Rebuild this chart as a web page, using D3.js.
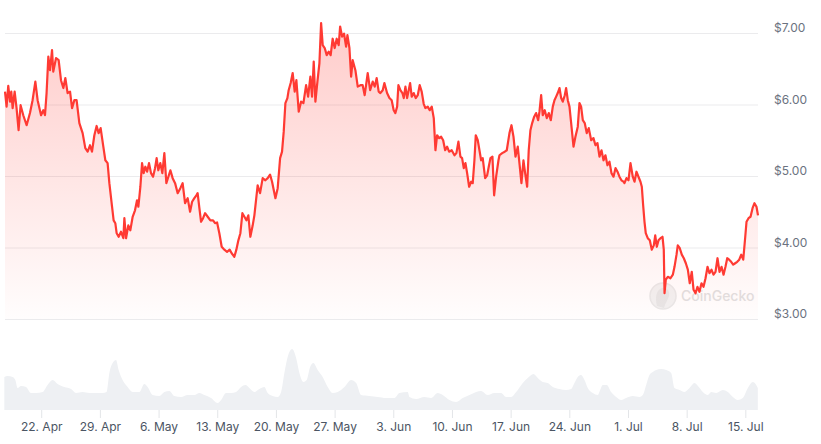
<!DOCTYPE html>
<html>
<head>
<meta charset="utf-8">
<script src="https://cdn.jsdelivr.net/npm/d3@7"></script>
<style>
  html, body { margin: 0; padding: 0; background: #fff; }
  svg { display: block; font-family: Inter, "Noto Sans", sans-serif; }
</style>
</head>
<body>
<svg width="821" height="444"></svg>
<script>
// days since 17 Apr 2024 00:00 UTC, price in USD
var priceDays = [0.68,0.87,1.07,1.28,1.43,1.59,1.83,2.06,2.30,2.54,2.86,3.26,3.66,3.97,4.30,4.57,4.98,5.25,5.45,5.64,5.85,6.05,6.29,6.44,6.77,7.08,7.36,7.64,7.88,8.15,8.44,8.68,8.95,9.22,9.55,9.94,10.26,10.54,10.82,11.06,11.34,11.61,11.85,12.09,12.41,12.65,12.92,13.13,13.45,13.64,13.84,14.00,14.24,14.52,14.80,
  14.92,15.12,15.39,15.63,15.91,16.19,16.43,16.59,16.83,17.03,17.22,17.42,17.63,17.86,18.10,18.34,18.58,18.77,18.97,19.21,19.45,19.69,19.93,20.17,20.41,20.68,20.97,21.28,21.60,21.87,22.16,22.47,22.76,23.00,23.27,23.51,23.66,23.87,24.07,24.31,24.55,24.86,25.18,25.50,25.74,25.98,26.25,26.53,26.85,27.17,27.48,27.72,28.04,28.28,28.52,28.76,29.00,29.24,29.48,29.71,29.95,30.23,
  30.43,30.82,31.11,31.42,31.74,32.02,32.30,32.54,32.94,33.21,33.50,33.73,33.93,34.13,34.37,34.52,34.76,35.00,35.24,35.44,35.72,36.00,36.28,36.60,36.84,37.11,37.31,37.51,37.71,37.95,38.19,38.39,38.58,38.82,39.06,39.30,39.53,39.77,40.01,40.25,40.49,40.66,40.89,41.13,41.37,41.53,41.77,41.97,42.16,42.48,42.76,43.08,43.35,43.59,43.95,44.24,44.55,44.79,45.02,45.26,
  45.46,45.74,45.94,46.26,46.54,46.81,47.05,47.25,47.46,47.61,47.85,48.09,48.25,48.45,48.65,48.84,49.01,49.20,49.44,49.68,49.92,50.15,50.39,50.63,50.83,51.11,51.35,51.59,51.83,52.03,52.23,52.47,52.71,52.95,53.19,53.42,53.66,53.97,54.30,54.53,54.77,55.01,55.21,55.41,55.61,55.81,56.05,56.29,56.48,56.68,56.84,57.08,57.28,57.48,57.67,57.96,58.20,58.39,58.59,58.83,59.03,59.27,59.55,
  59.67,59.99,60.30,60.54,60.86,61.10,61.34,61.58,61.85,62.05,62.29,62.53,62.73,62.97,63.16,63.36,63.57,63.81,64.04,64.28,64.44,64.64,64.83,65.07,65.31,65.55,65.79,66.03,66.23,66.43,66.62,66.83,67.03,67.22,67.46,67.62,67.82,68.02,68.22,68.50,68.73,69.01,69.21,69.41,69.61,69.84,70.08,70.32,70.61,70.88,71.12,71.36,71.60,71.84,72.08,72.31,72.55,72.79,73.03,73.27,73.51,73.75,73.98,74.22,74.46,
  74.58,74.82,75.06,75.30,75.57,75.78,76.01,76.25,76.49,76.65,76.81,76.97,77.12,77.36,77.60,77.84,78.08,78.25,78.44,78.64,78.88,79.12,79.27,79.36,79.51,79.75,80.07,80.35,80.55,80.79,80.94,81.18,81.42,81.66,81.90,82.14,82.37,82.61,82.82,83.06,83.29,83.53,83.77,84.01,84.25,84.49,84.72,84.96,85.20,85.44,85.68,85.92,86.16,86.40,86.63,86.84,87.07,87.31,87.55,87.79,88.03,88.27,88.51,88.75,88.99,89.14,89.38,89.62,89.86,90.09,90.33,90.51];
var prices = [6.18,5.97,6.26,6.04,6.18,5.95,6.18,5.95,5.64,5.99,5.85,5.71,5.88,6.06,6.32,6.06,5.85,5.92,5.85,6.16,6.67,6.48,6.76,6.46,6.65,6.62,6.34,6.23,6.37,6.16,6.18,5.95,6.06,6.06,5.74,5.60,5.39,5.34,5.43,5.34,5.57,5.70,5.60,5.67,5.41,5.22,5.18,4.90,4.57,4.38,4.34,4.20,4.15,4.22,4.13,
  4.41,4.13,4.31,4.24,4.43,4.52,4.66,4.57,4.85,5.18,5.04,5.13,5.06,5.18,5.04,4.99,5.11,5.25,5.08,5.18,5.04,5.32,4.90,4.99,5.08,4.97,4.90,4.76,4.83,4.90,4.62,4.69,4.50,4.64,4.69,4.73,4.76,4.55,4.36,4.41,4.48,4.43,4.38,4.38,4.34,4.35,4.20,4.01,3.97,3.94,3.97,3.92,3.87,3.97,4.10,4.20,4.48,4.43,4.38,4.45,4.15,4.31,
  4.45,4.87,4.76,4.97,4.94,4.97,5.02,4.92,4.69,4.83,5.25,5.34,5.62,6.02,6.09,6.20,6.30,6.44,6.18,6.34,5.90,6.04,6.02,6.27,6.11,6.39,6.11,6.60,6.04,6.32,6.58,7.14,6.83,6.79,6.69,6.74,6.69,6.92,6.79,6.92,6.83,7.09,6.95,6.99,6.81,6.97,6.79,6.39,6.62,6.48,6.25,6.27,6.27,6.13,6.44,6.20,6.32,6.25,6.37,6.18,
  6.16,6.20,6.30,6.16,6.09,6.06,5.92,5.88,5.97,6.27,6.20,6.16,6.09,6.25,6.09,6.20,6.30,6.11,6.16,6.09,6.13,6.27,6.18,6.01,5.95,5.97,5.92,5.97,5.81,5.36,5.57,5.53,5.55,5.50,5.36,5.41,5.34,5.36,5.29,5.32,5.48,5.27,5.25,5.11,5.18,5.04,4.85,4.92,4.90,5.22,5.57,5.50,5.36,5.22,5.25,4.97,5.01,5.13,5.25,5.27,4.73,4.99,5.22,
  5.29,5.32,5.34,5.36,5.60,5.71,5.55,5.27,5.41,5.18,4.90,5.22,5.04,4.85,5.36,5.64,5.74,5.83,5.88,5.78,5.90,6.13,5.85,5.92,5.81,5.88,5.78,5.97,6.06,6.11,6.16,6.23,6.09,6.04,6.13,6.23,6.06,5.97,5.74,5.41,5.55,5.69,6.02,5.97,5.78,5.74,5.60,5.67,5.50,5.53,5.43,5.46,5.27,5.36,5.22,5.29,5.15,5.20,5.04,4.99,5.11,5.06,4.99,4.94,4.92,
  4.90,4.97,4.94,5.18,4.99,4.92,5.06,4.99,4.92,4.85,4.59,4.36,4.20,4.13,4.10,3.97,4.03,4.17,4.01,4.10,4.13,4.15,3.97,3.36,3.55,3.59,3.57,3.62,3.73,3.90,4.03,3.99,3.90,3.85,3.78,3.69,3.50,3.66,3.41,3.36,3.45,3.38,3.50,3.45,3.57,3.73,3.64,3.69,3.62,3.66,3.85,3.66,3.73,3.62,3.73,3.85,3.83,3.80,3.76,3.78,3.80,3.83,3.90,3.83,4.15,4.36,4.41,4.43,4.55,4.62,4.57,4.45];

// trading volume, $M
var volumeDays = [0.60,0.99,1.59,1.91,2.18,2.59,3.19,3.78,4.38,5.17,5.76,6.36,6.96,7.76,8.56,9.15,9.94,10.74,11.54,12.33,12.80,13.13,13.52,13.93,14.24,14.71,15.31,15.91,16.71,17.30,17.70,18.29,19.09,19.69,20.29,20.88,21.68,22.47,23.27,23.87,24.46,25.26,26.05,26.46,27.05,27.65,28.25,28.84,29.36,29.83,30.43,31.03,31.62,32.02,32.61,33.21,33.62,34.01,34.40,34.93,35.41,35.80,36.28,36.67,37.08,37.47,37.98,38.58,39.18,39.77,40.37,41.17,41.97,42.57,43.16,44.15,45.14,46.14,47.14,47.73,48.72,
  48.93,49.72,50.71,51.51,52.30,52.90,53.70,54.50,55.29,56.09,56.88,57.48,58.27,59.07,59.87,60.46,61.06,61.66,62.45,63.04,63.72,64.24,64.83,65.43,66.03,66.82,67.62,68.22,68.61,69.01,69.41,69.81,70.20,70.80,71.40,71.68,71.99,72.47,72.99,73.59,74.19,74.78,75.57,76.37,76.77,77.17,77.56,77.96,78.36,78.96,79.56,80.15,80.55,81.15,81.74,82.34,82.94,83.45,83.93,84.52,84.93,85.52,86.31,86.91,87.51,88.10,88.70,89.30,89.89,90.30,90.49];
var volumes = [33,34,33,30,22,24,23,17,17,18,25,30,26,23,21,17,18,17,17,17,18,37,47,50,40,30,23,18,18,26,23,15,14,18,19,14,13,15,15,17,15,12,7,10,17,17,18,23,25,22,18,21,23,17,14,13,18,37,53,61,52,37,28,30,43,47,40,33,23,17,18,23,30,27,15,14,13,12,12,17,18,
  13,11,13,12,17,15,10,8,12,15,18,19,15,17,17,13,13,18,27,32,36,32,28,27,23,21,20,21,27,33,35,30,22,17,15,20,25,25,18,13,10,12,14,13,15,25,35,38,40,41,40,37,22,20,18,22,27,23,18,15,18,17,20,18,13,10,12,22,28,25,22];

var priceTicks = [3, 4, 5, 6, 7];
var weekTicks = ["2024-04-22","2024-04-29","2024-05-06","2024-05-13","2024-05-20","2024-05-27","2024-06-03","2024-06-10","2024-06-17","2024-06-24","2024-07-01","2024-07-08","2024-07-15"];

var t0 = Date.UTC(2024, 3, 17);
function toDate(d){ return new Date(t0 + d * 864e5) }

var priceData = priceDays.map(function(d, i){ return {date: toDate(d), value: prices[i]} });
var volData = volumeDays.map(function(d, i){ return {date: toDate(d), value: volumes[i]} });

var svg = d3.select("svg"),
    left = 5, right = 758

var x = d3.scaleUtc()
    .domain(d3.extent(priceData, function(d){ return d.date }))
    .range([left, right]);
var y = d3.scaleLinear().domain([3, 7]).range([319, 33]);
var yVol = d3.scaleLinear().domain([0, 80]).range([410, 330]);

var defs = svg.append("defs");
var grad = defs.append("linearGradient").attr("id", "priceFill")
    .attr("x1", 0).attr("y1", 0).attr("x2", 0).attr("y2", 1);
grad.append("stop").attr("offset", "0%").attr("stop-color", "#ff3a33").attr("stop-opacity", 0.26);
grad.append("stop").attr("offset", "100%").attr("stop-color", "#ff3a33").attr("stop-opacity", 0.01);

// grid
svg.append("g")
    .selectAll("line")
    .data(priceTicks)
    .enter()
    .append("line")
    .attr("x1", left).attr("x2", right)
    .attr("y1", function(d){ return y(d) + 0.5 })
    .attr("y2", function(d){ return y(d) + 0.5 })
    .attr("stroke", "#ebebed")
    .attr("stroke-width", 1);

// y labels on the right
svg.append("g")
    .selectAll("text")
    .data(priceTicks)
    .enter()
    .append("text")
    .attr("x", 774)
    .attr("y", function(d){ return y(d) - 1 })
    .attr("fill", "#6b7280")
    .attr("font-size", 12)
    .text(function(d){ return "$" + d3.format(".2f")(d) });

// volume
var volArea = d3.area()
    .x(function(d){ return x(d.date) })
    .y0(yVol(0))
    .y1(function(d){ return yVol(d.value) })
    .curve(d3.curveMonotoneX);
svg.append("path")
    .datum(volData)
    .attr("d", volArea)
    .attr("fill", "#eef0f3");

// watermark
var wm = svg.append("g").attr("opacity", 0.5);
wm.append("circle").attr("cx", 663).attr("cy", 296).attr("r", 13)
    .attr("fill", "#e6e6e6").attr("stroke", "#d4d4d4").attr("stroke-width", 1.5);
wm.append("path")
    .attr("d", "M657,306 C655,298 656,290 662,288 C667,287 670,291 669,296 C668,300 665,303 664,308 Z")
    .attr("fill", "#d0d0d0");
wm.append("text")
    .attr("x", 681).attr("y", 301)
    .attr("font-size", 14).attr("font-weight", 500)
    .attr("fill", "#c4c4c4")
    .text("CoinGecko");

// price
var area = d3.area()
    .x(function(d){ return x(d.date) })
    .y0(y(3))
    .y1(function(d){ return y(d.value) });
svg.append("path")
    .datum(priceData)
    .attr("d", area)
    .attr("fill", "url(#priceFill)");

var line = d3.line()
    .x(function(d){ return x(d.date) })
    .y(function(d){ return y(d.value) });
svg.append("path")
    .datum(priceData)
    .attr("d", line)
    .attr("fill", "none")
    .attr("stroke", "#ff3a33")
    .attr("stroke-width", 2.2)
    .attr("stroke-linejoin", "round");

// x axis
var xAxis = svg.append("g")
    .attr("transform", "translate(0,410)")
    .call(d3.axisBottom(x)
        .tickValues(weekTicks.map(function(s){ return new Date(s + "T00:00:00Z") }))
        .tickFormat(d3.utcFormat("%-d. %b"))
        .tickSize(8)
        .tickPadding(4));
xAxis.select(".domain").remove();
xAxis.selectAll(".tick line").attr("stroke", "#e3e5e8");
xAxis.selectAll(".tick text")
    .attr("fill", "#4b5563")
    .attr("font-size", 12)
    .attr("font-family", "Inter, 'Noto Sans', sans-serif");
</script>
</body>
</html>
